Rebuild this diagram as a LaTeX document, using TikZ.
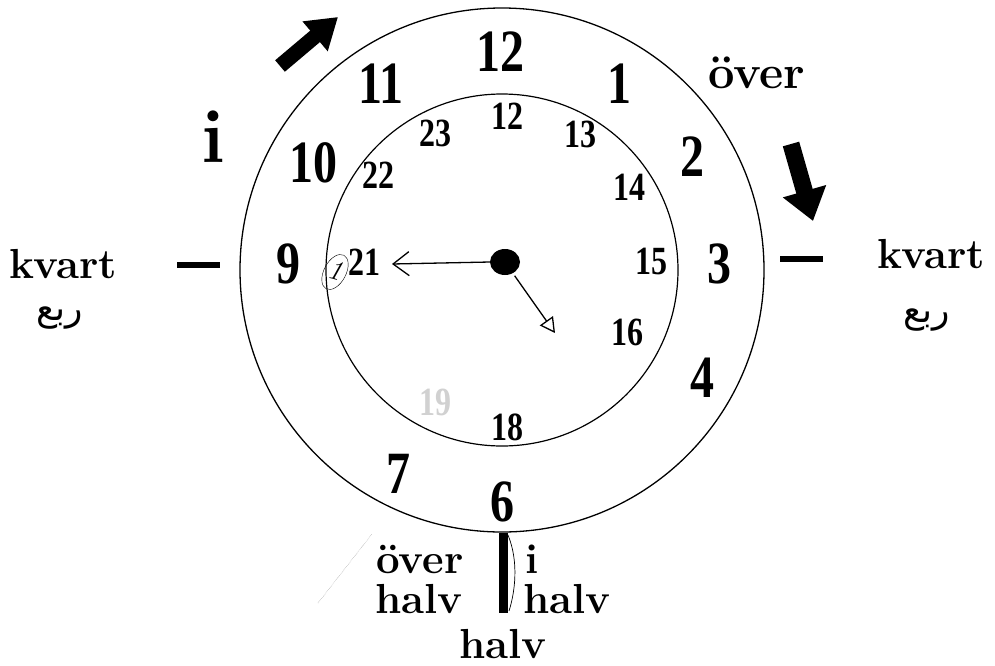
\documentclass[tikz,border=0pt]{standalone}
\usepackage{fontspec}
\usepackage{tikz}
\usetikzlibrary{arrows.meta,shapes.geometric}
\TeXXeTstate=1
\newfontfamily\arabicfont[Script=Arabic]{DejaVu Sans}
\newfontfamily\numfont[FakeStretch=0.8]{Liberation Serif}
\tikzset{
  onum/.style={font=\numfont\bfseries\fontsize{60}{60}\selectfont,inner sep=0pt},
  inum/.style={font=\numfont\bfseries\fontsize{40}{40}\selectfont,inner sep=0pt},
  wlbl/.style={font=\bfseries\fontsize{42}{42}\selectfont,inner sep=0pt,anchor=base},
  arlbl/.style={font=\arabicfont\fontsize{36}{36}\selectfont,inner sep=0pt},
  qdash/.style={line width=6pt},
  bigarrow/.style={line width=#1pt},
  hand/.style={line width=1.3pt},
}

\begin{document}
\begin{tikzpicture}[x=1pt,y=-1pt]
\useasboundingbox[fill=white] (0,0) rectangle (995,665);
% the two dials
\coordinate (c) at (502,270);
\draw[line width=1.3pt] (c) circle[radius=262];
\draw[line width=1.2pt] (c) circle[radius=176];
% outer ring: hours
\node[onum] (h12) at (500,52) {12};
\node[onum] (h1) at (619,84) {1};
\node[onum] (h2) at (692,157) {2};
\node[onum] (h3) at (719,264) {3};
\node[onum] (h4) at (702,378) {4};
\node[onum] (h6) at (502,502) {6};
\node[onum] (h7) at (398,474) {7};
\node[onum] (h9) at (288,264) {9};
\node[onum] (h10) at (313,163) {10};
\node[onum] (h11) at (381,84) {11};
% inner ring: 24-hour numbers
\node[inum] (d12) at (507,116) {12};
\node[inum] (d13) at (580,134) {13};
\node[inum] (d14) at (629,187) {14};
\node[inum] (d15) at (651,261) {15};
\node[inum] (d16) at (627,332) {16};
\node[inum] (d18) at (507,427) {18};
\node[inum,text=black!18] (d19) at (435,402) {19};
\node[inum] (d21) at (364,262) {21};
\node[inum] (d22) at (378,175) {22};
\node[inum] (d23) at (435,133) {23};
% hands
\node[fill,ellipse,minimum width=30pt,minimum height=26pt,inner sep=0pt] (dot) at (505,262) {};
\coordinate (htip) at (392,264);
\coordinate (mtip) at (555,333);
\draw[hand,-{Straight Barb[length=16pt,width=24pt]}] (dot.west) -- (htip);
\draw[hand,shorten <=3pt,-{Triangle[open,length=15pt,width=16pt]}] (dot.-55) -- (mtip);
% pencil mark at 21
\draw[thin] (335,272) ellipse[x radius=11, y radius=19, rotate=-28];
\node[font=\itshape\fontsize{28}{28}\selectfont,rotate=-15,inner sep=0pt] (one) at (336,270) {1};
% direction arrows
\coordinate (ul-s) at (280,66);
\coordinate (ul-e) at (338,17);
\draw[bigarrow=15,-{Triangle[length=30pt,width=37pt]}] (ul-s) -- (ul-e);
\coordinate (ur-s) at (791,144);
\coordinate (ur-e) at (813,221);
\draw[bigarrow=17,-{Triangle[length=31pt,width=43pt]}] (ur-s) -- (ur-e);
% words round the dial
\node[wlbl,font=\bfseries\fontsize{76}{76}\selectfont] (ileft) at (213,162) {i};
\node[wlbl,font=\bfseries\fontsize{47}{47}\selectfont] (overtop) at (757,88) {över};
\node[wlbl] (kvl) at (63,278) {kvart};
\node[arlbl] (arl) at (60,318) {\beginR ربع\endR};
\node[wlbl] (kvr) at (931,268) {kvart};
\node[arlbl] (arr) at (927,320) {\beginR ربع\endR};
\coordinate (dl-a) at (177,265);
\coordinate (dl-b) at (220,265);
\draw[qdash] (dl-a) -- (dl-b);
\coordinate (dr-a) at (780,259);
\coordinate (dr-b) at (823,259);
\draw[qdash] (dr-a) -- (dr-b);
% half-hour marker
\coordinate (bar-t) at (503,533);
\coordinate (bar-b) at (503,613);
\draw[line width=9pt] (bar-t) -- (bar-b);
\draw[line width=0.7pt] (508,535) .. controls (519,562) and (515,592) .. (509,611);
\draw[gray,densely dotted,thin] (318,603) -- (372,534);
\node[wlbl] (overl) at (420,573) {över};
\node[wlbl] (halvl) at (419,613) {halv};
\node[wlbl] (iright) at (532,573) {i};
\node[wlbl] (halvr) at (567,613) {halv};
\node[wlbl] (halvb) at (503,658) {halv};
\end{tikzpicture}
\end{document}
